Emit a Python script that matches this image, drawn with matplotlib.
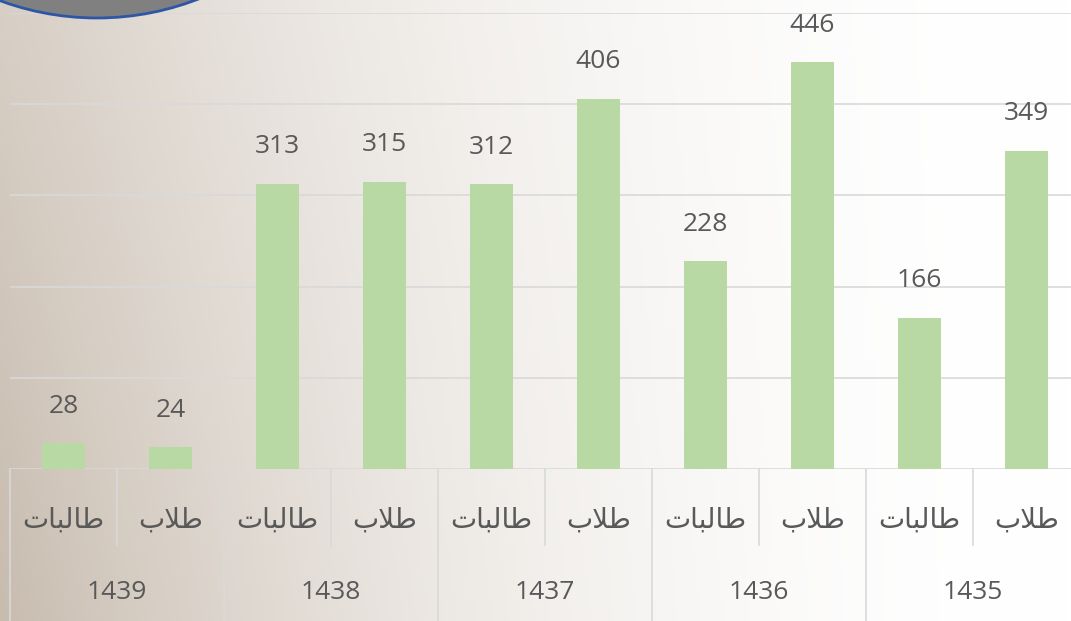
import numpy as np
import matplotlib.pyplot as plt
from matplotlib.patches import Circle

# بيانات الرسم (من اليسار إلى اليمين)
years = ['1439', '1438', '1437', '1436', '1435']
groups = ['طالبات', 'طلاب']
values = [28, 24, 313, 315, 312, 406, 228, 446, 166, 349]

W, H = 1071, 621

# تشكيل بسيط للحروف العربية (matplotlib لا يقوم بالتشكيل ولا بالاتجاه من اليمين لليسار)
FORMS = {  # isolated, final, initial, medial
    'ط': ('\uFEC1', '\uFEC2', '\uFEC3', '\uFEC4'),
    'ا': ('\uFE8D', '\uFE8E', None, None),
    'ل': ('\uFEDD', '\uFEDE', '\uFEDF', '\uFEE0'),
    'ب': ('\uFE8F', '\uFE90', '\uFE91', '\uFE92'),
    'ت': ('\uFE95', '\uFE96', '\uFE97', '\uFE98'),
}


def shape(word):
    out = []
    i = 0
    prev_joins = False
    while i < len(word):
        c = word[i]
        if c == 'ل' and i + 1 < len(word) and word[i + 1] == 'ا':
            out.append('\uFEFC' if prev_joins else '\uFEFB')
            prev_joins = False
            i += 2
            continue
        f = FORMS[c]
        nxt = i + 1 < len(word)
        joins_next = nxt and f[2] is not None
        if prev_joins and joins_next:
            g = f[3]
        elif prev_joins:
            g = f[1]
        elif joins_next:
            g = f[2]
        else:
            g = f[0]
        out.append(g)
        prev_joins = f[2] is not None
        i += 1
    return ''.join(reversed(out))


fig = plt.figure(figsize=(W / 100, H / 100), dpi=100)

# خلفية متدرجة
xx, yy = np.meshgrid(np.linspace(0, 1, 300), np.linspace(0, 1, 200))
w = (1 - xx) ** 2.0 * (0.72 + 0.28 * yy)
taupe = np.array([200, 188, 175]) / 255
img = 1 - w[..., None] * (1 - taupe)
bg = fig.add_axes([0, 0, 1, 1], zorder=-1)
bg.imshow(img, aspect='auto', extent=[0, W, H, 0])
bg.set_xlim(0, W)
bg.set_ylim(H, 0)
bg.axis('off')

ax = fig.add_axes([10 / W, 152 / H, 1070 / W, 456 / H])
ax.patch.set_alpha(0)
x = np.arange(len(values))
ax.bar(x, values, width=0.4, color='#b8d9a4', zorder=3)
ax.set_xlim(-0.5, 9.5)
ax.set_ylim(0, 500)
ax.set_yticks(np.arange(0, 501, 100))
ax.grid(axis='y', color='#d9d9d9', linewidth=1.2, zorder=0)
ax.tick_params(left=False, bottom=False, labelleft=False, labelbottom=False)
for s in ax.spines.values():
    s.set_visible(False)

fnt = ['Open Sans', 'DejaVu Sans']
for xi, v in zip(x, values):
    ax.annotate(str(v), (xi, v), xytext=(0, 22), textcoords='offset points',
                ha='center', va='baseline', fontsize=19, color='#595959', family=fnt)

# محور الفئات المتعددة المستويات
tr = ax.get_xaxis_transform()
for k in range(len(values)):
    ax.text(k, -0.112, shape(groups[k % 2]), transform=tr, ha='center', va='center',
            fontsize=20, color='#595959', family=fnt)
for j, yr in enumerate(years):
    ax.text(2 * j + 0.5, -0.27, yr, transform=tr, ha='center', va='center',
            fontsize=19, color='#595959', family=fnt)
for k in range(len(values) + 1):
    xb = k - 0.5
    y0 = -0.34 if k % 2 == 0 else -0.167
    ax.plot([xb, xb], [0, y0], transform=tr, color='#d9d9d9', lw=1.2, clip_on=False)

# الشكل الدائري في الأعلى
ov = fig.add_axes([0, 0, 1, 1], zorder=5)
ov.set_xlim(0, W)
ov.set_ylim(H, 0)
ov.axis('off')
ov.add_patch(Circle((97, -262), 280, facecolor='#808080', edgecolor='#2e56a6', lw=2))

plt.savefig('out.png', dpi=100)
